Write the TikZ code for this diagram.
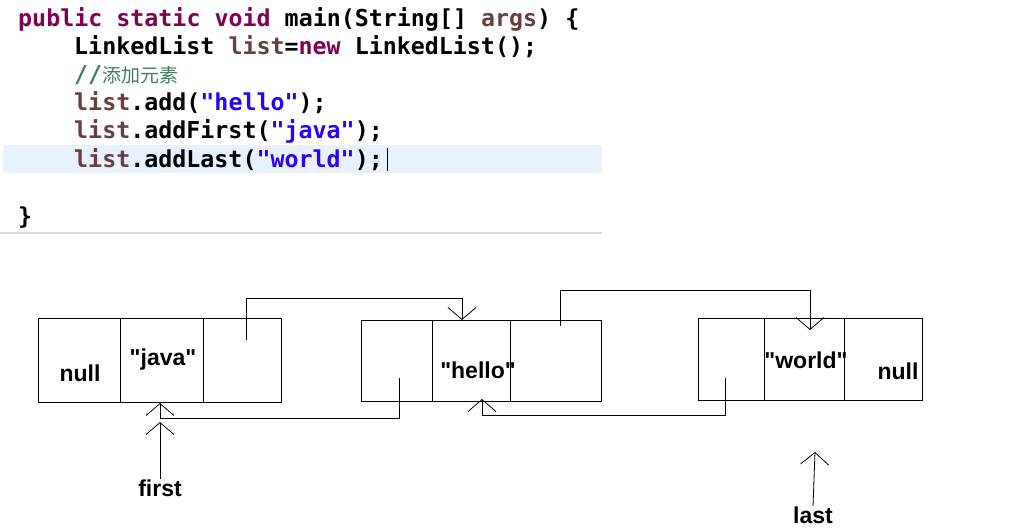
\documentclass[tikz,border=0pt]{standalone}
\usepackage{fontspec}
\setmainfont{Liberation Sans}
\newfontfamily\codefont{DejaVu Sans Mono}
\newfontfamily\cjk{Noto Sans CJK SC}
\usetikzlibrary{arrows.meta,positioning}
\definecolor{kw}{HTML}{7F0055}
\definecolor{str}{HTML}{2A00FF}
\definecolor{var}{HTML}{6A3E3E}
\definecolor{cmt}{HTML}{3F7F5F}
\definecolor{curline}{HTML}{E8F2FE}
\newcommand{\qt}[1]{\textquotedbl#1\textquotedbl}
\tikzset{
  code/.style={anchor=base west, inner sep=0pt, font=\codefont\bfseries\fontsize{23.3}{26}\selectfont},
  cell/.style={draw, line width=0.8pt, minimum height=84pt, inner sep=0pt, anchor=north west},
  lab/.style={font=\bfseries\fontsize{23}{26}\selectfont, inner sep=0pt},
  link/.style={line width=0.8pt, -{Straight Barb[length=12pt,width=28pt]}},
}
\begin{document}
\begin{tikzpicture}[x=1pt,y=-1pt]
  \useasboundingbox (0,0) rectangle (1011,531);
  \fill[white] (0,0) rectangle (1011,531);
  % code area
  \fill[curline] (3,145) rectangle (602,173);
  \draw[gray!30, line width=2pt] (0,233) -- (602,233);
  \node[code] (l1) at (18,26) {\color{kw}public static void \color{black}main(String[] \color{var}args\color{black}) \{};
  \node[code] (l2) at (74,54) {LinkedList \color{var}list\color{black}=\color{kw}new \color{black}LinkedList();};
  \node[code] (l3) at (74,82) {\color{cmt}//{\cjk\mdseries\fontsize{19}{22}\selectfont 添加元素}};
  \node[code] (l4) at (74,110) {\color{var}list\color{black}.add(\color{str}"hello"\color{black});};
  \node[code] (l5) at (74,138) {\color{var}list\color{black}.addFirst(\color{str}"java"\color{black});};
  \node[code] (l6) at (74,167) {\color{var}list\color{black}.addLast(\color{str}"world"\color{black});};
  \draw[line width=1pt] (387,148) -- (387,171);
  \node[code] (l7) at (18,224) {\}};
  % list nodes
  \node[cell, minimum width=82pt] (j1) at (38,318) {};
  \node[cell, minimum width=83pt] (j2) at (120,318) {};
  \node[cell, minimum width=78pt] (j3) at (203,318) {};
  \node[cell, minimum width=71pt, minimum height=81pt] (h1) at (361,320) {};
  \node[cell, minimum width=78pt, minimum height=81pt] (h2) at (432,320) {};
  \node[cell, minimum width=91pt, minimum height=81pt] (h3) at (510,320) {};
  \node[cell, minimum width=66pt, minimum height=82pt] (w1) at (698,318) {};
  \node[cell, minimum width=80pt, minimum height=82pt] (w2) at (764,318) {};
  \node[cell, minimum width=78pt, minimum height=82pt] (w3) at (844,318) {};
  \node[lab] at (80,373) {null};
  \node[lab] at (163,360) {\qt{java}};
  \node[lab] at (478,370) {\qt{hello}};
  \node[lab] at (806,360) {\qt{world}};
  \node[lab] at (898,371) {null};
  \node[lab] (first) at (160,488) {first};
  \node[lab] (last) at (813,515) {last};
  % links
  \coordinate (a1) at (246,340);
  \coordinate (a2) at (560,326);
  \coordinate (b1) at (399,378);
  \coordinate (b2) at (725,378);
  \draw[link] (a1) |- (462,298) -- (462,320);
  \draw[link] (a2) |- (810,290) -- (810,330);
  \draw[link] (b1) |- (160,418) -- (160,403);
  \draw[link] (b2) |- (482,415) -- (482,399);
  \draw[link] (first.north) -- (160,422);
  \draw[link] (last.north) -- (815,452);
\end{tikzpicture}
\end{document}
